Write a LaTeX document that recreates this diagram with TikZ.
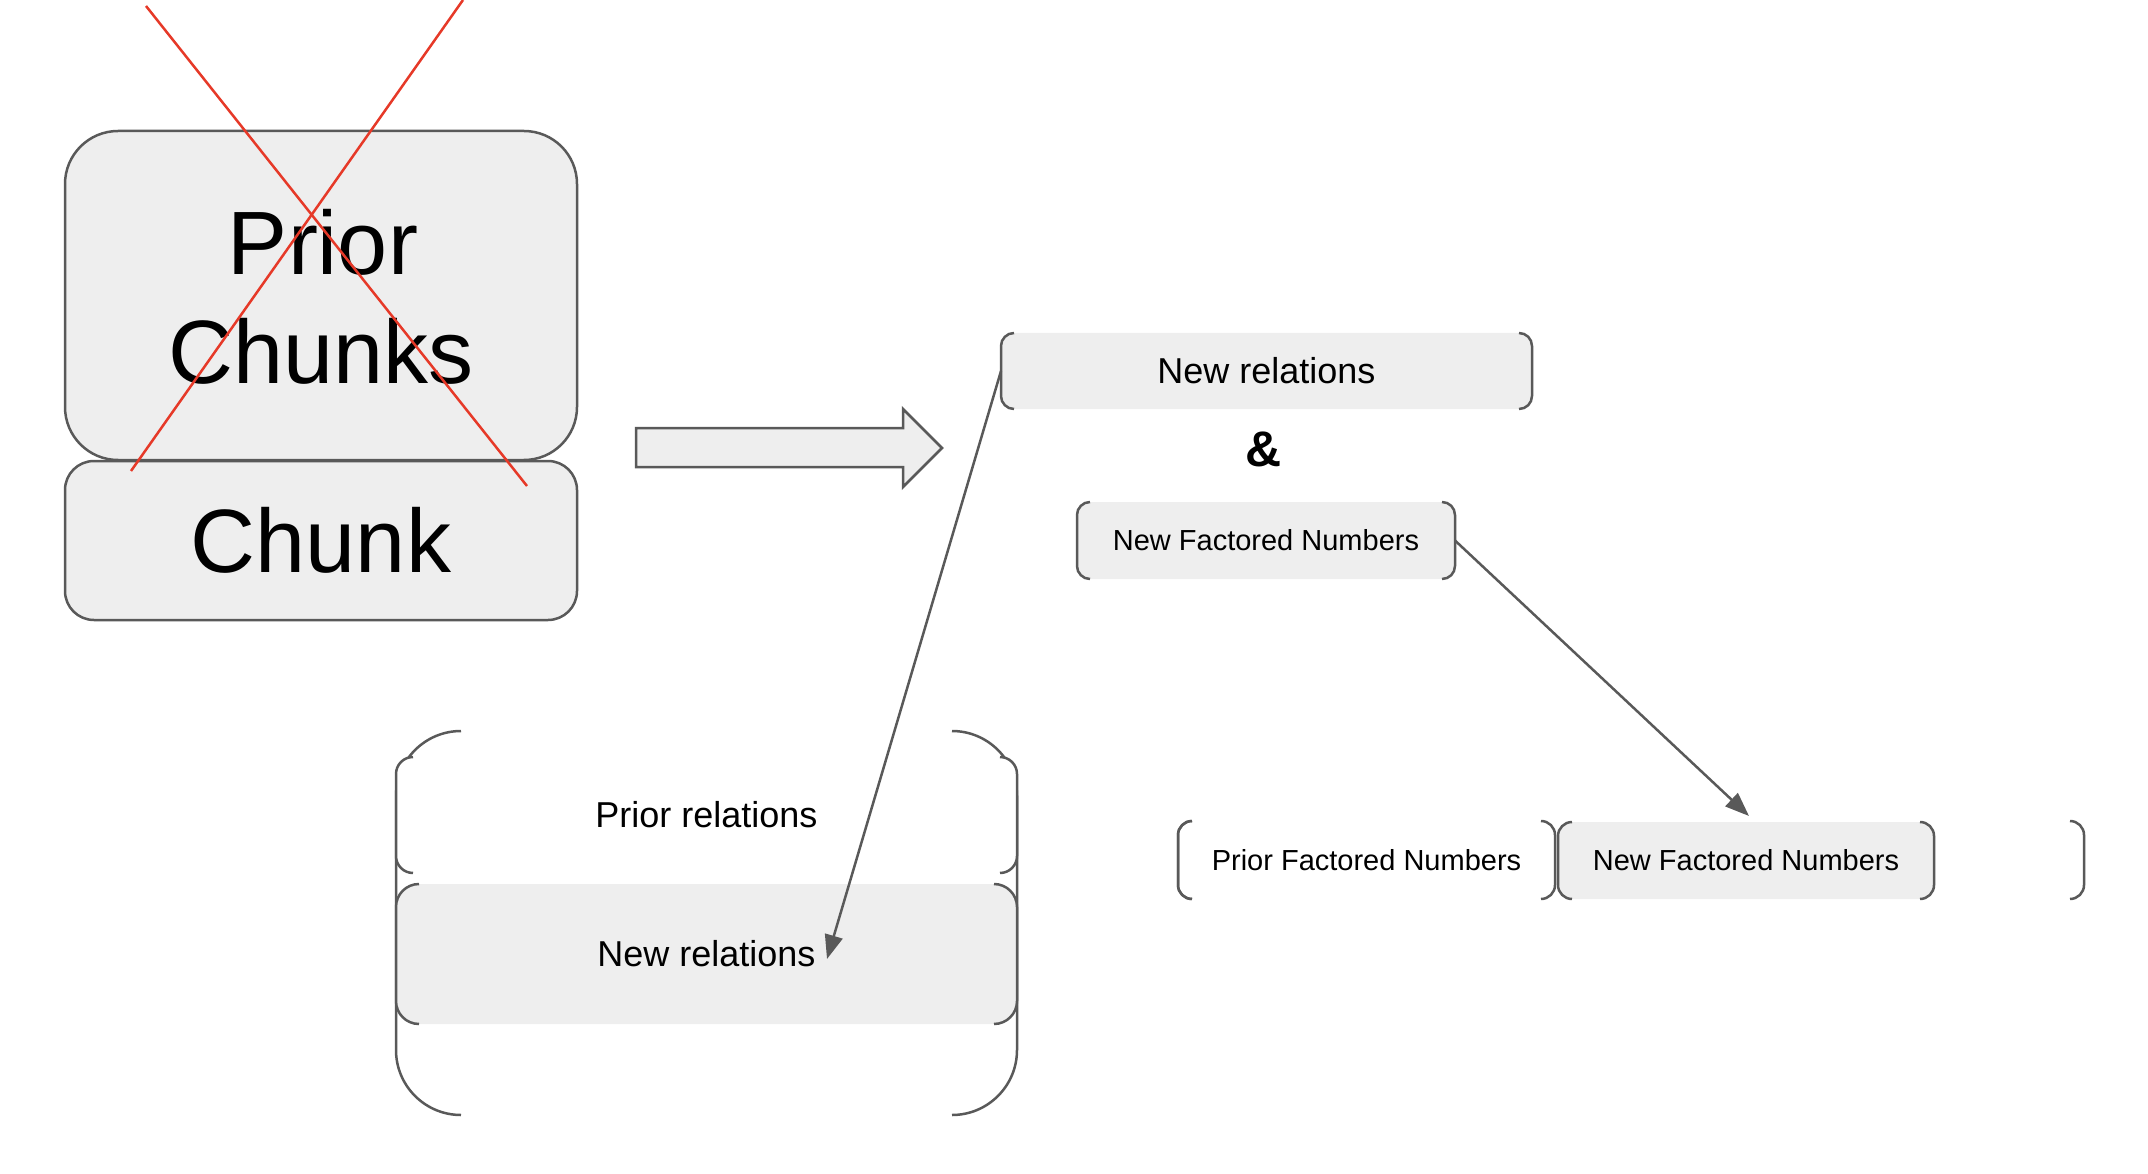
\documentclass[tikz,border=0pt]{standalone}
\usepackage{fontspec}
\setmainfont{Liberation Sans}
\usetikzlibrary{arrows.meta}
\definecolor{lineg}{HTML}{595959}
\definecolor{boxg}{HTML}{EEEEEE}
\definecolor{xred}{RGB}{230,57,40}
\newcommand\brpair[2]{%
  \draw[draw=lineg,line width=2.5pt,rounded corners=#2] ([xshift=#2]#1.north west) -- (#1.north west) -- (#1.south west) -- ([xshift=#2]#1.south west);
  \draw[draw=lineg,line width=2.5pt,rounded corners=#2] ([xshift=-#2]#1.north east) -- (#1.north east) -- (#1.south east) -- ([xshift=-#2]#1.south east);}
\begin{document}
\begin{tikzpicture}[x=1pt,y=-1pt,
  every node/.style={inner sep=0pt, outer sep=0pt},
  bordered/.style={draw=lineg, fill=boxg, line width=2.5pt},
  flat/.style={fill=boxg},
  huge/.style={font=\fontsize{90}{108}\selectfont},
  midtext/.style={font=\fontsize{36}{43}\selectfont, text height=25.8pt, text depth=0pt},
  smalltext/.style={font=\fontsize{29}{35}\selectfont, text height=20.8pt, text depth=0pt},
  conn/.style={draw=lineg, line width=2.5pt, -{Triangle[length=24pt,width=18pt]}},
  redx/.style={draw=xred, line width=2.5pt},
]
\useasboundingbox (0,0) rectangle (2148,1174);

% left stack
\node[bordered, rounded corners=53pt, minimum width=512pt, minimum height=329pt] (pc) at (321,295.5) {};
\node[bordered, rounded corners=29pt, minimum width=512pt, minimum height=159pt, huge, text height=64.4pt, text depth=0pt] (ch) at (321,540.5) {Chunk};
\node[huge, anchor=base] (pcA) at (323,275) {Prior};
\node[huge, anchor=base] (pcB) at (321,384) {Chunks};
\draw[redx] (146,6) -- (527,486);
\draw[redx] (463,0) -- (131,471);

% block arrow
\draw[bordered, line join=miter] (636,428) -- (903,428) -- (903,409) -- (942,448) -- (903,487) -- (903,467) -- (636,467) -- cycle;

% top right
\node[flat, rounded corners=13pt, minimum width=531pt, minimum height=76pt, midtext] (nrt) at (1266.5,371) {New relations};
\brpair{nrt}{13pt}
\node[font=\fontsize{50}{60}\selectfont\bfseries, anchor=base] (amp) at (1264,466) {\&};
\node[flat, rounded corners=13pt, minimum width=378pt, minimum height=77pt, smalltext] (nfa) at (1266,540.5) {New Factored Numbers};
\brpair{nfa}{13pt}

% bottom left group
\node[minimum width=621pt, minimum height=384pt] (relgrp) at (706.5,923) {};
\brpair{relgrp}{65pt}
\node[fill=white, rounded corners=17pt, minimum width=621pt, minimum height=116pt, midtext] (prel) at (706.5,815) {Prior relations};
\brpair{prel}{17pt}
\node[flat, rounded corners=23pt, minimum width=621pt, minimum height=140pt, midtext] (nrel) at (706.5,954) {New relations};
\brpair{nrel}{23pt}

% bottom right group
\node[minimum width=906pt, minimum height=78pt] (fgrp) at (1631,860) {};
\brpair{fgrp}{14pt}
\node[minimum width=377pt, minimum height=78pt, smalltext] (pfn) at (1366.5,860) {Prior Factored Numbers};
\brpair{pfn}{14pt}
\node[flat, rounded corners=14pt, minimum width=376pt, minimum height=77pt, smalltext] (nfb) at (1746,860.5) {New Factored Numbers};
\brpair{nfb}{14pt}

% connectors
\coordinate (a1) at (827,959);
\draw[conn] (nrt.west) -- (a1);
\coordinate (a2) at (1749,816);
\draw[conn] (nfa.east) -- (a2);
\end{tikzpicture}
\end{document}
